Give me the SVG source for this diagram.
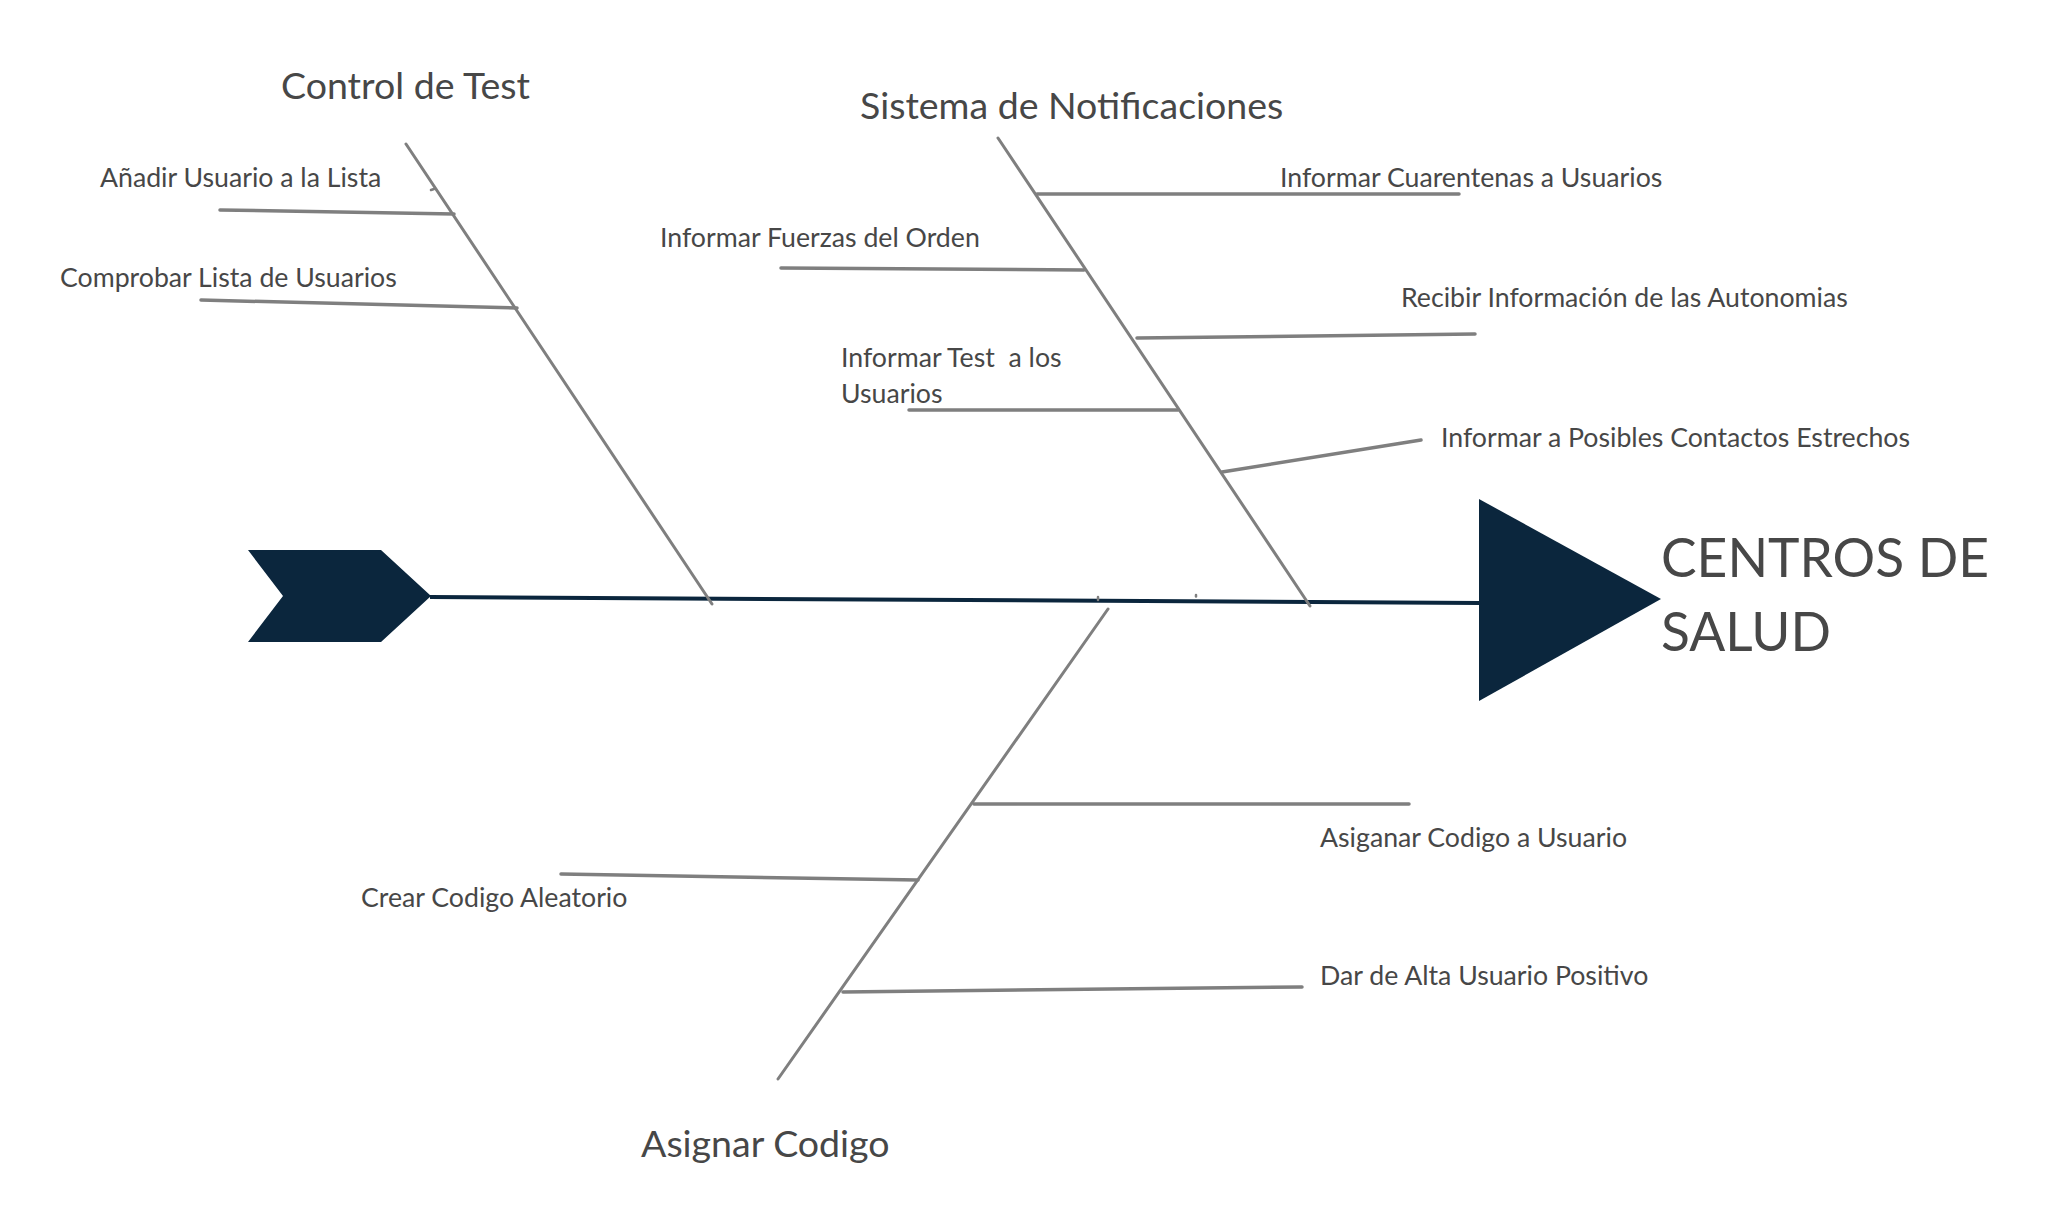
<svg xmlns="http://www.w3.org/2000/svg" width="2063" height="1232" viewBox="0 0 2063 1232">
<style>
.bone{stroke:#7f7f7f;stroke-width:3;stroke-linecap:round;fill:none}
.rib{stroke:#7f7f7f;stroke-width:3.5;stroke-linecap:round;fill:none}
.spine{stroke:#0b263d;stroke-width:4;fill:none}
.head{fill:#0b263d}
.tick{stroke:#7f7f7f;stroke-width:2.5;stroke-linecap:round;fill:none}
text{font-family:Lato,"Liberation Sans",sans-serif;fill:#474747}
.lbl{font-size:26.7px}
.cat{font-size:37.5px}
.eff{font-size:53.3px}
</style>
<rect width="2063" height="1232" fill="#fff"/>
<g id="connectors">
<line class="spine" x1="430" y1="597" x2="1480" y2="603"/>
<line class="bone" x1="406" y1="144" x2="712" y2="604"/>
<line class="bone" x1="998" y1="138" x2="1310" y2="606"/>
<line class="bone" x1="1108" y1="609" x2="778" y2="1079"/>
<line class="rib" x1="220" y1="210" x2="454" y2="214"/>
<line class="rib" x1="201" y1="300" x2="517" y2="308"/>
<line class="rib" x1="1037" y1="194" x2="1459" y2="194"/>
<line class="rib" x1="781" y1="268" x2="1084" y2="270"/>
<line class="rib" x1="1137" y1="338" x2="1475" y2="334"/>
<line class="rib" x1="909" y1="410" x2="1178" y2="410"/>
<line class="rib" x1="1222" y1="472" x2="1421" y2="440"/>
<line class="rib" x1="974" y1="804" x2="1409" y2="804"/>
<line class="rib" x1="561" y1="874" x2="918" y2="880"/>
<line class="rib" x1="843" y1="992" x2="1302" y2="987"/>
<line class="tick" x1="431" y1="190" x2="434" y2="189"/>
<line class="tick" x1="1098" y1="597" x2="1098" y2="600"/>
<line class="tick" x1="1196" y1="595" x2="1196" y2="596.5"/>
</g>
<g id="tail">
<polygon class="head" points="248,550 381,550 431,596 381,642 248,642 283,596"/>
</g>
<g id="effect">
<polygon class="head" points="1479,499 1661,599 1479,701"/>
<text class="eff" x="1661" y="577">CENTROS DE</text>
<text class="eff" x="1661" y="651">SALUD</text>
</g>
<g id="cat-control">
<text class="cat" x="281" y="99">Control de Test</text>
</g>
<g id="cat-notif">
<text class="cat" x="860" y="119">Sistema de Notificaciones</text>
</g>
<g id="cat-codigo">
<text class="cat" x="641" y="1157">Asignar Codigo</text>
</g>
<g id="c-anadir"><text class="lbl" x="100" y="187">Añadir Usuario a la Lista</text></g>
<g id="c-comprobar"><text class="lbl" x="60" y="287">Comprobar Lista de Usuarios</text></g>
<g id="c-cuarentenas"><text class="lbl" x="1280" y="187">Informar Cuarentenas a Usuarios</text></g>
<g id="c-fuerzas"><text class="lbl" x="660" y="247">Informar Fuerzas del Orden</text></g>
<g id="c-recibir"><text class="lbl" x="1401" y="307">Recibir Información de las Autonomias</text></g>
<g id="c-test"><text class="lbl" x="841" y="367" xml:space="preserve">Informar Test  a los</text><text class="lbl" x="841" y="403">Usuarios</text></g>
<g id="c-contactos"><text class="lbl" x="1441" y="447">Informar a Posibles Contactos Estrechos</text></g>
<g id="c-asiganar"><text class="lbl" x="1320" y="847">Asiganar Codigo a Usuario</text></g>
<g id="c-crear"><text class="lbl" x="361" y="907">Crear Codigo Aleatorio</text></g>
<g id="c-dar"><text class="lbl" x="1320" y="985">Dar de Alta Usuario Positivo</text></g>
</svg>
